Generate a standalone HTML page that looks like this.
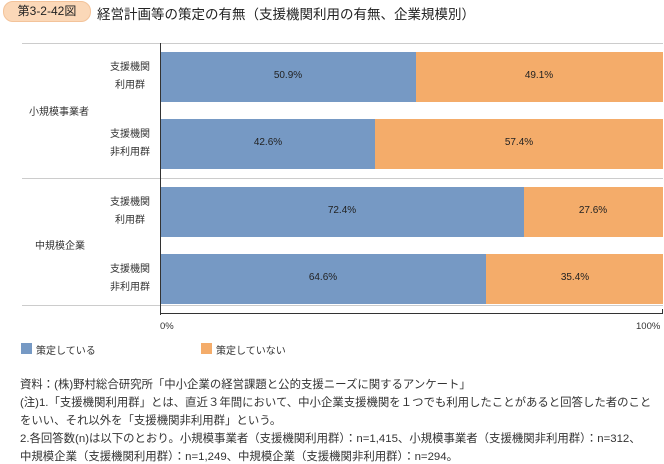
<!DOCTYPE html><html><head><meta charset="utf-8"><style>
body{margin:0;background:#fff;width:664px;height:464px;position:relative;overflow:hidden;font-family:"Liberation Sans","Noto Sans CJK JP",sans-serif;color:#333}
.a{position:absolute}
.bar{position:absolute;height:50px}
.b{background:#7699c4}.o{background:#f4ac6a}
.v{position:absolute;font-size:10px;color:#222;width:60px;text-align:center}
.l{position:absolute;font-size:10px;line-height:18px;text-align:center;width:60px;color:#333}
.n{font-size:11.4px;position:absolute;left:20px;white-space:nowrap;color:#333}
</style></head><body>
<div class="a" style="left:3px;top:1px;width:86px;height:19px;border-radius:10px;background:#fbd8b8;border:1px solid #f3c39a;font-size:12px;line-height:19px;text-align:center;color:#222">第3-2-42図</div>
<div class="a" style="left:97px;top:3px;font-size:13.5px;color:#222">経営計画等の策定の有無（支援機関利用の有無、企業規模別）</div>
<div class="a" style="left:22px;top:43px;width:641px;height:1px;background:#ccc"></div>
<div class="a" style="left:22px;top:178px;width:641px;height:1px;background:#ccc"></div>
<div class="a" style="left:22px;top:305px;width:641px;height:1px;background:#ccc"></div>
<div class="a" style="left:160px;top:43px;width:1px;height:272px;background:#333"></div>
<div class="a" style="left:160px;top:313px;width:503px;height:1px;background:#333"></div>
<div class="a" style="left:662px;top:309px;width:1px;height:5px;background:#333"></div>
<div class="bar b" style="left:161px;top:52px;width:255px"></div><div class="bar o" style="left:416px;top:52px;width:247px"></div>
<div class="bar b" style="left:161px;top:119px;width:214px"></div><div class="bar o" style="left:375px;top:119px;width:288px"></div>
<div class="bar b" style="left:161px;top:187px;width:363px"></div><div class="bar o" style="left:524px;top:187px;width:139px"></div>
<div class="bar b" style="left:161px;top:254px;width:325px"></div><div class="bar o" style="left:486px;top:254px;width:177px"></div>
<div class="v" style="left:258px;top:70px">50.9%</div><div class="v" style="left:509px;top:70px">49.1%</div>
<div class="v" style="left:238px;top:137px">42.6%</div><div class="v" style="left:489px;top:137px">57.4%</div>
<div class="v" style="left:312px;top:205px">72.4%</div><div class="v" style="left:563px;top:205px">27.6%</div>
<div class="v" style="left:293px;top:272px">64.6%</div><div class="v" style="left:545px;top:272px">35.4%</div>
<div class="l" style="left:100px;top:59px">支援機関<br>利用群</div>
<div class="l" style="left:100px;top:126px">支援機関<br>非利用群</div>
<div class="l" style="left:100px;top:194px">支援機関<br>利用群</div>
<div class="l" style="left:100px;top:261px">支援機関<br>非利用群</div>
<div class="a" style="left:29px;top:103px;font-size:10px">小規模事業者</div>
<div class="a" style="left:35px;top:237px;font-size:10px">中規模企業</div>
<div class="a" style="left:160px;top:321px;font-size:9.5px">0%</div>
<div class="a" style="left:636px;top:321px;font-size:9.5px">100%</div>
<div class="a b" style="left:21px;top:343px;width:11px;height:11px"></div>
<div class="a" style="left:36px;top:342px;font-size:10px">策定している</div>
<div class="a o" style="left:201px;top:343px;width:11px;height:11px"></div>
<div class="a" style="left:216px;top:342px;font-size:10px">策定していない</div>
<div class="n" style="top:376px">資料：(株)野村総合研究所「中小企業の経営課題と公的支援ニーズに関するアンケート」</div>
<div class="n" style="top:394px">(注)1.「支援機関利用群」とは、直近３年間において、中小企業支援機関を１つでも利用したことがあると回答した者のこと</div>
<div class="n" style="top:412px">をいい、それ以外を「支援機関非利用群」という。</div>
<div class="n" style="top:430px">2.各回答数(n)は以下のとおり。小規模事業者（支援機関利用群）：n=1,415、小規模事業者（支援機関非利用群）：n=312、</div>
<div class="n" style="top:448px">中規模企業（支援機関利用群）：n=1,249、中規模企業（支援機関非利用群）：n=294。</div>
</body></html>
